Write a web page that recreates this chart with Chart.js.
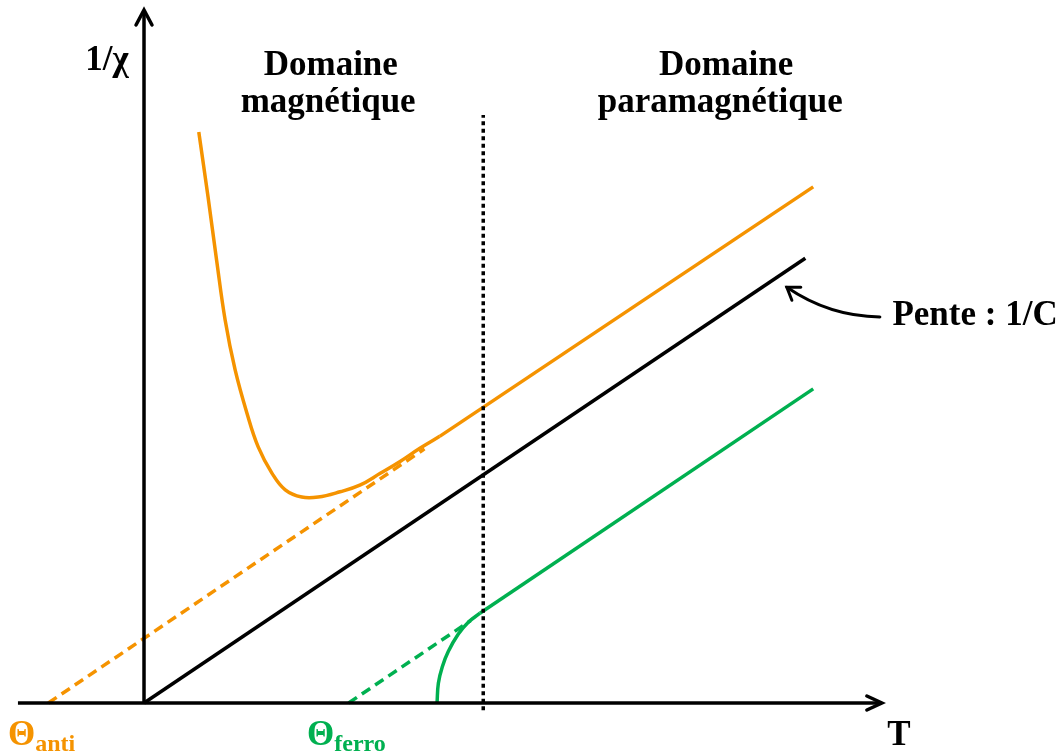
<!DOCTYPE html>
<html>
<head>
<meta charset="utf-8">
<script src="https://cdn.jsdelivr.net/npm/chart.js@4"></script>
<style>
	body { margin: 0; background: #fff; }
	#wrap { width: 1060px; height: 754px; }
</style>
</head>
<body>
<div id="wrap"><canvas id="chart"></canvas></div>
<script>
// T en abscisse, 1/chi en ordonnee (unites arbitraires)
const thetaAnti = -1.45;
const thetaFerro = 3.1;

const axisXT = [-1.91, 11.18];
const axisYY = [0, 10.5];

const curieT = [0, 10.02];
const curieY = [0, 6.74];

const antiCurveT = [0.83, 0.97, 1.10, 1.23, 1.38, 1.56, 1.73, 1.94, 2.14, 2.39, 2.64, 2.97, 3.27, 3.58, 3.88, 4.18, 4.48];
const antiCurveY = [8.65, 7.67, 6.71, 5.80, 5.05, 4.39, 3.88, 3.48, 3.23, 3.12, 3.12, 3.20, 3.30, 3.48, 3.66, 3.86, 4.04];
const antiLineT = [4.48, 10.14];
const antiLineY = [4.04, 7.82];
const antiDashT = [thetaAnti, 4.25];
const antiDashY = [0, 3.85];

const ferroCurveT = [4.44, 4.46, 4.52, 4.61, 4.76, 4.91, 5.09];
const ferroCurveY = [0, 0.30, 0.55, 0.78, 1.04, 1.22, 1.36];
const ferroLineT = [5.09, 10.14];
const ferroLineY = [1.36, 4.76];
const ferroDashT = [thetaFerro, 4.95];
const ferroDashY = [0, 1.25];

const curieTempT = 5.14;
const curieTempY = [-0.11, 8.91];

const orange = "#F59300";
const green = "#00B050";
const serif = "'Liberation Serif', 'Times New Roman', serif";

const pts = (xs, ys) => xs.map((x, i) => ({ x: x, y: ys[i] }));

const lineSet = (data, color, extra) => Object.assign({
	data: data,
	showLine: true,
	pointRadius: 0,
	borderColor: color,
	borderWidth: 3.5,
	fill: false,
	tension: 0,
}, extra || {});

const labelsPlugin = {
	id: "labels",
	afterDatasetsDraw(chart) {
		const ctx = chart.ctx;
		const sx = chart.scales.x;
		const sy = chart.scales.y;
		const px = (t) => sx.getPixelForValue(t);
		const py = (v) => sy.getPixelForValue(v);

		ctx.save();
		ctx.strokeStyle = "#000";
		ctx.lineWidth = 3.5;
		ctx.lineCap = "round";
		ctx.lineJoin = "miter";

		// fleches des axes
		const xTip = { x: px(axisXT[1]), y: py(0) };
		ctx.beginPath();
		ctx.moveTo(xTip.x - 15, xTip.y - 7);
		ctx.lineTo(xTip.x, xTip.y);
		ctx.lineTo(xTip.x - 15, xTip.y + 7);
		ctx.stroke();

		const yTip = { x: px(0), y: py(axisYY[1]) };
		ctx.beginPath();
		ctx.moveTo(yTip.x - 8, yTip.y + 15);
		ctx.lineTo(yTip.x, yTip.y);
		ctx.lineTo(yTip.x + 8, yTip.y + 15);
		ctx.stroke();

		// fleche courbe vers la droite de Curie
		const tail = { x: px(11.15), y: py(5.85) };
		const ctrl = { x: px(10.38), y: py(5.86) };
		const tip = { x: px(9.74), y: py(6.30) };
		ctx.lineWidth = 3;
		ctx.beginPath();
		ctx.moveTo(tail.x, tail.y);
		ctx.quadraticCurveTo(ctrl.x, ctrl.y, tip.x, tip.y);
		ctx.stroke();
		const ang = Math.atan2(tip.y - ctrl.y, tip.x - ctrl.x);
		ctx.beginPath();
		ctx.moveTo(tip.x - 14 * Math.cos(ang - 0.6), tip.y - 14 * Math.sin(ang - 0.6));
		ctx.lineTo(tip.x, tip.y);
		ctx.lineTo(tip.x - 14 * Math.cos(ang + 0.6), tip.y - 14 * Math.sin(ang + 0.6));
		ctx.stroke();

		// textes
		ctx.fillStyle = "#000";
		ctx.textBaseline = "alphabetic";
		ctx.font = "bold 35px " + serif;
		ctx.textAlign = "center";
		ctx.fillText("1/\u03c7", px(-0.56), py(9.59));
		ctx.fillText("Domaine", px(2.83), py(9.52));
		ctx.fillText("magnétique", px(2.79), py(8.95));
		ctx.fillText("Domaine", px(8.82), py(9.52));
		ctx.fillText("paramagnétique", px(8.73), py(8.95));
		ctx.fillText("T", px(11.44), py(-0.64));
		ctx.textAlign = "left";
		ctx.fillText("Pente : 1/C", px(11.34), py(5.73));

		const theta = (t, sub, color) => {
			ctx.fillStyle = color;
			ctx.font = "bold 35px " + serif;
			ctx.fillText("\u0398", px(t), py(-0.64));
			const w = ctx.measureText("\u0398").width;
			ctx.font = "bold 24px " + serif;
			ctx.fillText(sub, px(t) + w, py(-0.73));
		};
		theta(-2.06, "anti", orange);
		theta(2.47, "ferro", green);

		ctx.restore();
	},
};

const config = {
	type: "scatter",
	data: {
		datasets: [
			lineSet(pts(axisXT, [0, 0]), "#000", { borderCapStyle: "butt" }),
			lineSet(pts([0, 0], axisYY), "#000", { borderCapStyle: "butt" }),
			lineSet(pts([curieTempT, curieTempT], curieTempY), "#000", { borderWidth: 3.5, borderDash: [4, 3.5], borderCapStyle: "butt" }),
			lineSet(pts(antiDashT, antiDashY), orange, { borderDash: [10, 6], borderCapStyle: "butt" }),
			lineSet(pts(ferroDashT, ferroDashY), green, { borderDash: [10, 6], borderCapStyle: "butt" }),
			lineSet(pts(curieT, curieY), "#000"),
			lineSet(pts(antiCurveT, antiCurveY), orange, { tension: 0.4 }),
			lineSet(pts(antiLineT, antiLineY), orange),
			lineSet(pts(ferroCurveT, ferroCurveY), green, { tension: 0.4 }),
			lineSet(pts(ferroLineT, ferroLineY), green),
		],
	},
	options: {
		responsive: true,
		maintainAspectRatio: false,
		animation: false,
		layout: { padding: 0 },
		plugins: {
			legend: { display: false },
			tooltip: { enabled: false },
		},
		scales: {
			x: { type: "linear", display: false, min: -2.182, max: 13.879 },
			y: { type: "linear", display: false, min: -0.773, max: 10.652 },
		},
	},
	plugins: [labelsPlugin],
};

new Chart(document.getElementById("chart"), config);
</script>
</body>
</html>
